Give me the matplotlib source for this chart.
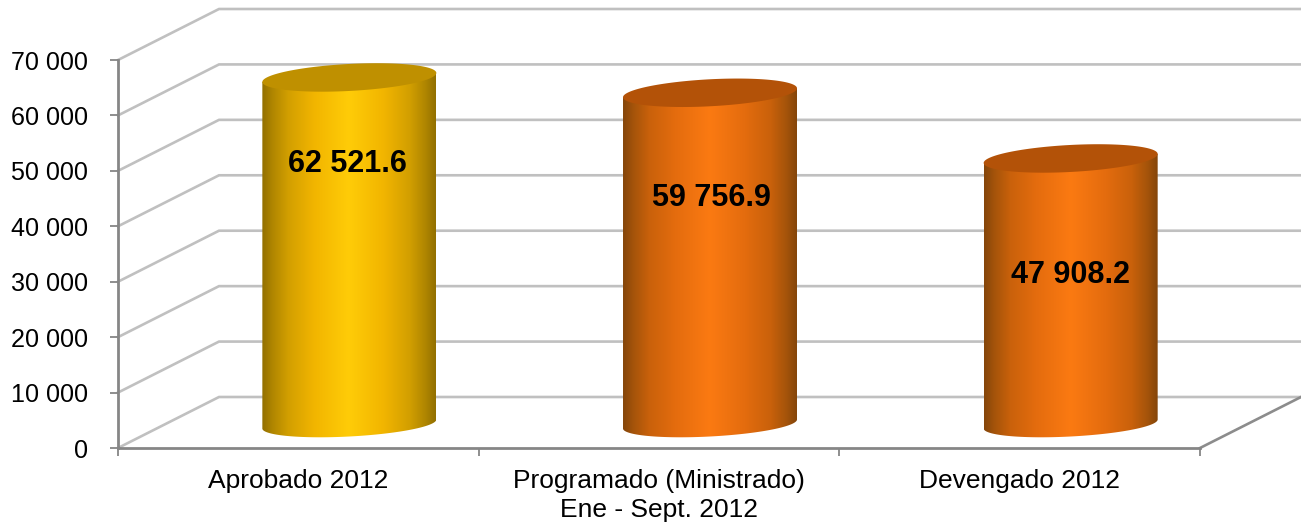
import numpy as np
import matplotlib
matplotlib.use("Agg")
import matplotlib.pyplot as plt
from matplotlib.colors import LinearSegmentedColormap
from matplotlib.patches import Polygon

plt.rcParams['font.family'] = ['Liberation Sans', 'DejaVu Sans']

categories = ["Aprobado 2012", "Programado (Ministrado)\nEne - Sept. 2012", "Devengado 2012"]
values = [62521.6, 59756.9, 47908.2]
value_labels = ["62 521.6", "59 756.9", "47 908.2"]
label_heights = [51200, 45100, 31200]      # where the numbers sit on the bars
label_shift = [-2, 1, 0]
yticks = [0, 10000, 20000, 30000, 40000, 50000, 60000, 70000]
ytick_labels = ["0", "10 000", "20 000", "30 000", "40 000", "50 000", "60 000", "70 000"]

stops = [0, 0.06, 0.15, 0.3, 0.5, 0.7, 0.85, 0.94, 1]
yellow_side = ["#937000", "#b08600", "#d29f00", "#f2b500", "#ffcc08", "#f2b500", "#d29f00", "#b08600", "#937000"]
orange_side = ["#85460a", "#a5540a", "#c9610b", "#e46c0e", "#fb7a12", "#e46c0e", "#c9610b", "#a5540a", "#85460a"]
side_colors = [yellow_side, orange_side, orange_side]
top_colors = ["#bf9000", "#b35208", "#b35208"]

W, H = 1301, 525
fig = plt.figure(figsize=(W / 100, H / 100), dpi=100)
ax = fig.add_axes([118 / W, 1 - 448 / H, 1082 / W, 388 / H])
ax.set_xlim(-0.5, 2.5)
ax.set_ylim(0, 70000)

# 3d look: size of one px in data units
px_x = 3 / 1082
px_y = 70000 / 388
depth_x = 101 * px_x
depth_y = 51 * px_y

# back wall and side wall grid
for v in yticks:
    ax.plot([-0.5, -0.5 + depth_x, 2.5 + depth_x], [v, v + depth_y, v + depth_y],
            color="#c0c0c0", lw=1.9, clip_on=False, zorder=1, solid_joinstyle="miter")
ax.plot([2.5, 2.5 + depth_x], [0, depth_y], color="#8c8c8c", lw=1.9, clip_on=False, zorder=2)

half_w = 87 * px_x
half_h = 13.5 * px_y
base_h = 12.5 * px_y
tilt = 4.5 * px_y
t = np.linspace(0, 2 * np.pi, 200)

for i, v in enumerate(values):
    xc = i + 51 * px_x
    y0 = 24 * px_y
    ex = half_w * np.cos(t)
    ey = half_h * np.sin(t) + tilt * np.cos(t)
    # side: lower half of base ellipse, then straight up to the top ellipse
    low = t[100:]
    bx = xc + half_w * np.cos(low)
    by = y0 + base_h * np.sin(low) + tilt * np.cos(low)
    outline = np.vstack([np.c_[bx, by], np.c_[bx[::-1], y0 + v + tilt * np.cos(low[::-1])]])
    cmap = LinearSegmentedColormap.from_list("side", list(zip(stops, side_colors[i])))
    im = ax.imshow(np.linspace(0, 1, 256)[None, :], cmap=cmap, aspect="auto", zorder=3,
                   extent=[xc - half_w, xc + half_w, y0 - 2 * half_h, y0 + v + 2 * half_h],
                   interpolation="bilinear")
    clip = Polygon(outline, closed=True, transform=ax.transData, fc="none", ec="none")
    ax.add_patch(clip)
    im.set_clip_path(clip)
    ax.fill(xc + ex, y0 + v + ey, color=top_colors[i], zorder=4, lw=0)
    ax.text(xc + label_shift[i] * px_x, label_heights[i], value_labels[i], ha="center", va="center",
            fontsize=22, fontweight="bold", color="black", zorder=5)

ax.set_xlim(-0.5, 2.5)
ax.set_ylim(0, 70000)

for side in ["top", "right"]:
    ax.spines[side].set_visible(False)
for side in ["left", "bottom"]:
    ax.spines[side].set_color("#868686")
    ax.spines[side].set_linewidth(2)
    ax.spines[side].set_zorder(2)
ax.patch.set_alpha(0)

ax.set_yticks(yticks)
ax.set_yticklabels(ytick_labels)
ax.tick_params(axis="y", length=5.8, width=1.3, color="#868686", labelsize=18.1, pad=16)
ax.set_xticks([-0.5, 0.5, 1.5, 2.5])
ax.set_xticklabels([])
ax.set_xticks([0, 1, 2], minor=True)
ax.set_xticklabels(categories, minor=True)
ax.tick_params(axis="x", which="major", length=5.8, width=1.3, color="#868686")
ax.tick_params(axis="x", which="minor", length=0, labelsize=19, pad=15, )
for lab in ax.get_xticklabels(minor=True):
    lab.set_linespacing(1.25)

fig.savefig("out.png", dpi=100)
